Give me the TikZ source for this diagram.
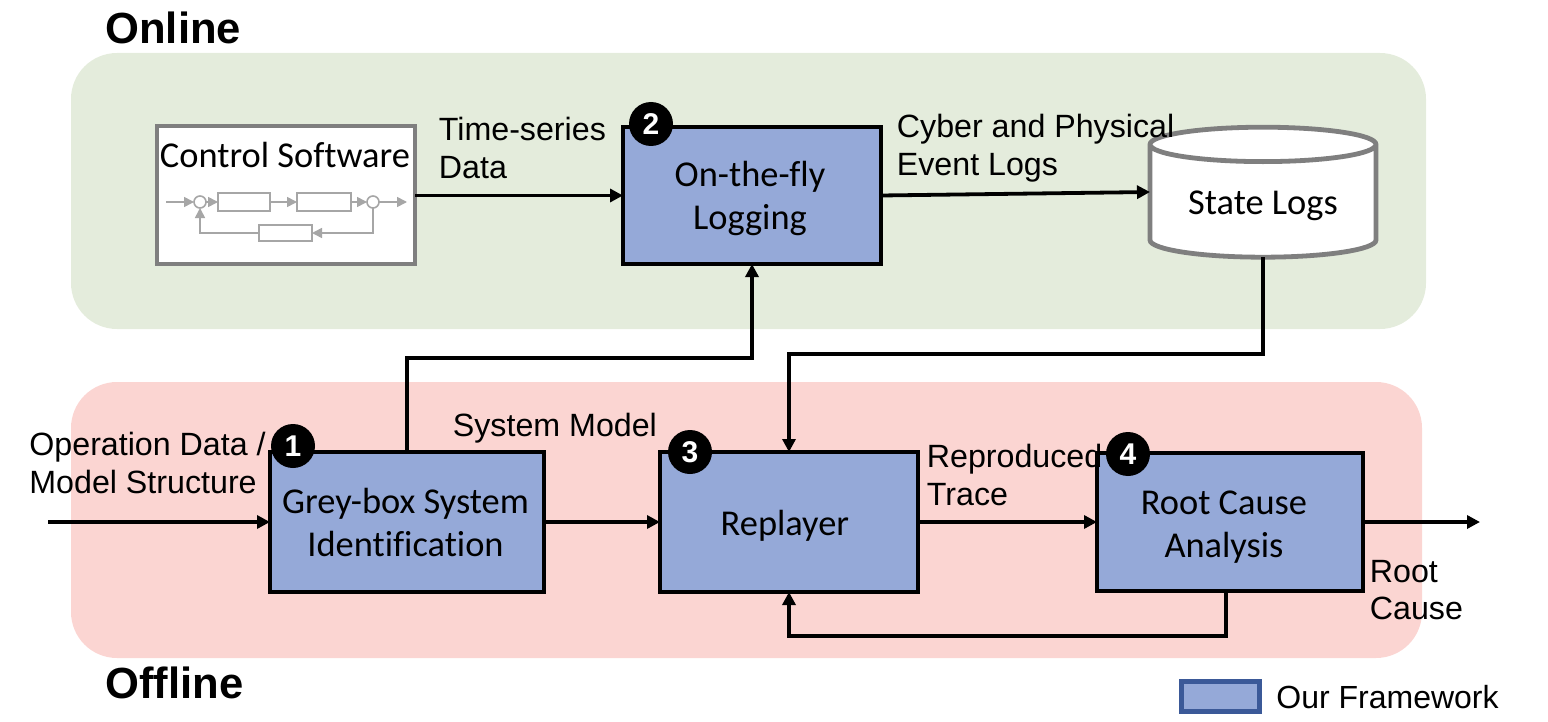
\documentclass[tikz,border=0pt]{standalone}
\usepackage{fontspec}
\setmainfont{Liberation Sans}
\newfontfamily\blockfont[Ligatures=NoCommon]{Carlito}
\usetikzlibrary{shapes, shapes.geometric, arrows.meta, calc, positioning}
\definecolor{onlinegreen}{HTML}{E4ECDC}
\definecolor{offlinepink}{HTML}{FBD5D2}
\definecolor{blockblue}{HTML}{95A9D8}
\definecolor{legendblue}{HTML}{3B5998}
\definecolor{softgray}{HTML}{7F7F7F}
\definecolor{loopgray}{HTML}{A6A6A6}
\tikzset{
  region/.style={rounded corners=23pt, inner sep=0pt, outer sep=0pt},
  block/.style={draw=black, fill=blockblue, line width=2.4pt, inner sep=0pt, outer sep=0pt, align=center, font=\blockfont\fontsize{18.2}{21.5}\selectfont},
  badge/.style={circle, fill=black, text=white, inner sep=0pt, minimum size=22pt, font=\bfseries\fontsize{15}{15}\selectfont},
  flow/.style={-{Triangle[length=6.5pt, width=6.5pt]}, line width=1.9pt},
  lbl/.style={anchor=west, align=left, inner sep=0pt, font=\fontsize{16.1}{18.7}\selectfont},
  head/.style={anchor=west, inner sep=0pt, font=\bfseries\fontsize{21.8}{26}\selectfont},
  mini/.style={draw=loopgray, fill=white, line width=0.8pt, inner sep=0pt, outer sep=0pt},
  miniflow/.style={-{Triangle[length=5pt, width=5pt]}, draw=loopgray, line width=0.8pt}
}
\begin{document}
\begin{tikzpicture}[x=0.5pt, y=-0.5pt]
        \useasboundingbox (0,0) rectangle (1548,722);

        \node [region, fill=onlinegreen, minimum width=677.5pt, minimum height=138pt] (Ron) at (748.5,191) {};
        \node [region, fill=offlinepink, minimum width=675.5pt, minimum height=138pt] (Roff) at (746.5,520) {};
        \node [head] (Hon) at (105,28) { Online };
        \node [head] (Hoff) at (105,683) { Offline };

        % control software with its small loop
        \node [draw=softgray, fill=white, line width=2.4pt, minimum width=129pt, minimum height=69pt, inner sep=0pt, outer sep=0pt] (C0) at (286,195) {};
        \node [font=\blockfont\fontsize{18.2}{21}\selectfont, inner sep=0pt] (C1) at (285,155) { Control Software };
        \node [mini, circle, minimum size=6pt] (S1) at (200,202) {};
        \node [mini, minimum width=26pt, minimum height=9pt, right=6pt of S1] (F1) {};
        \node [mini, minimum width=27pt, minimum height=9pt, right=13.5pt of F1] (F2) {};
        \node [mini, circle, minimum size=6pt, right=8pt of F2] (S2) {};
        \node [mini, minimum width=26.5pt, minimum height=8pt] (F3) at (285.5,233) {};
        \coordinate (Sin) at (166,202);
        \coordinate (Sout) at (407,202);
        \draw [miniflow] (Sin) -- (S1);
        \draw [miniflow] (S1) -- (F1);
        \draw [miniflow] (F1) -- (F2);
        \draw [miniflow] (F2) -- (S2);
        \draw [miniflow] (S2) -- (Sout);
        \draw [miniflow] (S2) |- (F3);
        \draw [miniflow] (F3) -| (S1);

        \node [block, minimum width=129pt, minimum height=68.5pt] (B2) at (752,195.5) { \rule{0pt}{15.5pt}On-the-fly\hspace*{2pt} \\ Logging\hspace*{2pt} };
        \node [cylinder, shape border rotate=90, aspect=0.23, draw=softgray, fill=white, line width=2.4pt, minimum width=113pt, minimum height=65pt, inner sep=0pt, outer sep=0pt, font=\blockfont\fontsize{18.2}{21}\selectfont] (DB) at (1263,202) { \rule{0pt}{16pt}State Logs };

        \node [block, minimum width=137pt, minimum height=70pt] (B1) at (407,522) { Grey-box System\hspace*{1.5pt} \\ Identification\hspace*{1.5pt} };
        \node [block, minimum width=129pt, minimum height=70pt, right=58pt of B1] (B3) { \rule{0pt}{16pt}Replayer };
        \node [block, minimum width=133pt, minimum height=69pt, right=89.5pt of B3] (B4) { \rule{0pt}{17pt}Root Cause\hspace*{6pt} \\ Analysis\hspace*{6pt} };

        \coordinate (Ein) at (48,522);
        \coordinate (Eout) at (1480,522);
        \coordinate (Up) at (600,358);
        \coordinate (Dn) at (1000,354);
        \coordinate (Bk) at (1000,636);
        \coordinate (Lin) at (1150,192);

        \draw [flow] (C0.east |- B2) -- (B2);
        \draw [flow] (B2.east) -- (Lin);
        \draw [flow] (B1.north) |- (Up) -| (B2.south);
        \draw [flow] (DB.south) |- (Dn) -| (B3.north);
        \draw [flow] (Ein) -- (B1);
        \draw [flow] (B1) -- (B3);
        \draw [flow] (B3) -- (B4);
        \draw [flow] (B4.east |- Eout) -- (Eout);
        \draw [flow] (B4.south -| 1226,590) |- (Bk) -| (B3.south);

        \node [lbl] (L1) at (438.5,148) { Time-series \\ Data };
        \node [lbl] (L2) at (896.5,148) { Cyber and Physical \\ Event Logs };
        \node [lbl] (L3) at (29,463) { Operation Data / \\ Model Structure };
        \node [lbl] (L4) at (452.5,428) { System Model };
        \node [lbl] (L5) at (926.5,475) { Reproduced \\ Trace };
        \node [lbl] (L6) at (1369.5,590) { Root \\ Cause };

        \node [badge] (N1) at (293,446) { 1 };
        \node [badge] (N2) at (651,124) { 2 };
        \node [badge] (N3) at (690,452) { 3 };
        \node [badge] (N4) at (1128,454) { 4 };

        \node [draw=legendblue, fill=blockblue, line width=2.5pt, minimum width=39pt, minimum height=15pt, inner sep=0pt] (K0) at (1220,696) {};
        \node [lbl, font=\fontsize{16}{19}\selectfont] (K1) at (1276,697) { Our Framework };
\end{tikzpicture}
\end{document}
